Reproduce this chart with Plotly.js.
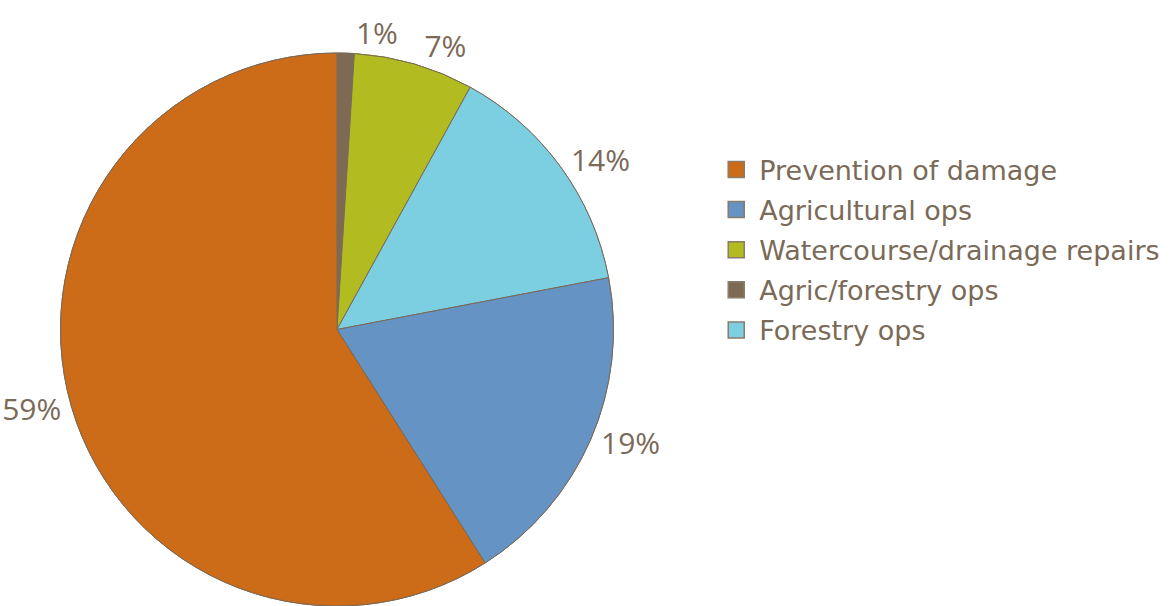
<!DOCTYPE html>
<html>
<head>
<meta charset="utf-8">
<script src="https://cdn.plot.ly/plotly-3.0.1.min.js"></script>
<style>html,body{margin:0;padding:0;background:#fff;}#chart{width:1175px;height:606px;}</style>
</head>
<body>
<div id="chart"></div>
<script>
// Categories in legend order
const categories = ["Prevention of damage", "Agricultural ops", "Watercourse/drainage repairs", "Agric/forestry ops", "Forestry ops"];
// Share of each category (%)
const shares = [59, 19, 7, 1, 14];
const colors = ["#cc6b18", "#6493c4", "#b2bb1f", "#7d6a55", "#7ccfe0"];
// Order in which slices are drawn clockwise from 12 o'clock
const drawOrder = [3, 2, 4, 1, 0];

const textColor = "#7a6a58";
const labelFont = "'Open Sans', 'Noto Sans', sans-serif";
const legendFont = "'DejaVu Sans', 'Noto Sans', sans-serif";

const pieLabels = drawOrder.map(i => categories[i]);
const pieValues = drawOrder.map(i => shares[i]);
const pieColors = drawOrder.map(i => colors[i]);
const pieDomain = {x: [0.0368, 0.5368], y: [0.0, 0.9125]};

// The smallest slice's label is drawn by an overlaid identical pie so that
// Plotly does not push it away from its neighbour's label.
const smallest = pieValues.indexOf(Math.min.apply(null, pieValues));

function makePie(showSmallOnly) {
  return {
    type: "pie",
    labels: pieLabels,
    values: pieValues,
    marker: {colors: pieColors, line: {color: "#7a6a58", width: 1}},
    sort: false,
    direction: "clockwise",
    rotation: 0,
    texttemplate: "%{value}%",
    textposition: pieValues.map((v, k) => (showSmallOnly ? (k === smallest ? "outside" : "none") : (k === smallest ? "none" : "outside"))),
    outsidetextfont: {color: textColor, size: 30, family: labelFont},
    hoverinfo: "label+value",
    domain: pieDomain,
    showlegend: false
  };
}

// Legend entries (no data points drawn)
const legendTraces = categories.map((name, i) => ({
  type: "scatter",
  mode: "markers",
  x: [null],
  y: [null],
  name: name,
  legendgroup: "g" + i,
  marker: {symbol: "square", size: 16, color: colors[i], line: {color: "#8a7b6a", width: 1.5}},
  hoverinfo: "skip",
  showlegend: true
}));

const layout = {
  width: 1175,
  height: 606,
  margin: {l: 0, r: 0, t: 0, b: 0},
  paper_bgcolor: "#ffffff",
  plot_bgcolor: "rgba(0,0,0,0)",
  font: {family: labelFont, color: textColor},
  showlegend: true,
  xaxis: {visible: false, domain: [0.99, 1]},
  yaxis: {visible: false, domain: [0.99, 1]},
  legend: {
    x: 0.607, y: 0.76, xanchor: "left", yanchor: "top",
    font: {size: 27, color: textColor, family: legendFont},
    traceorder: "grouped",
    tracegroupgap: 2,
    itemsizing: "trace",
    itemwidth: 36,
    bgcolor: "rgba(0,0,0,0)"
  }
};

Plotly.newPlot("chart", [makePie(false), makePie(true)].concat(legendTraces), layout, {displayModeBar: false, staticPlot: true});
</script>
</body>
</html>
